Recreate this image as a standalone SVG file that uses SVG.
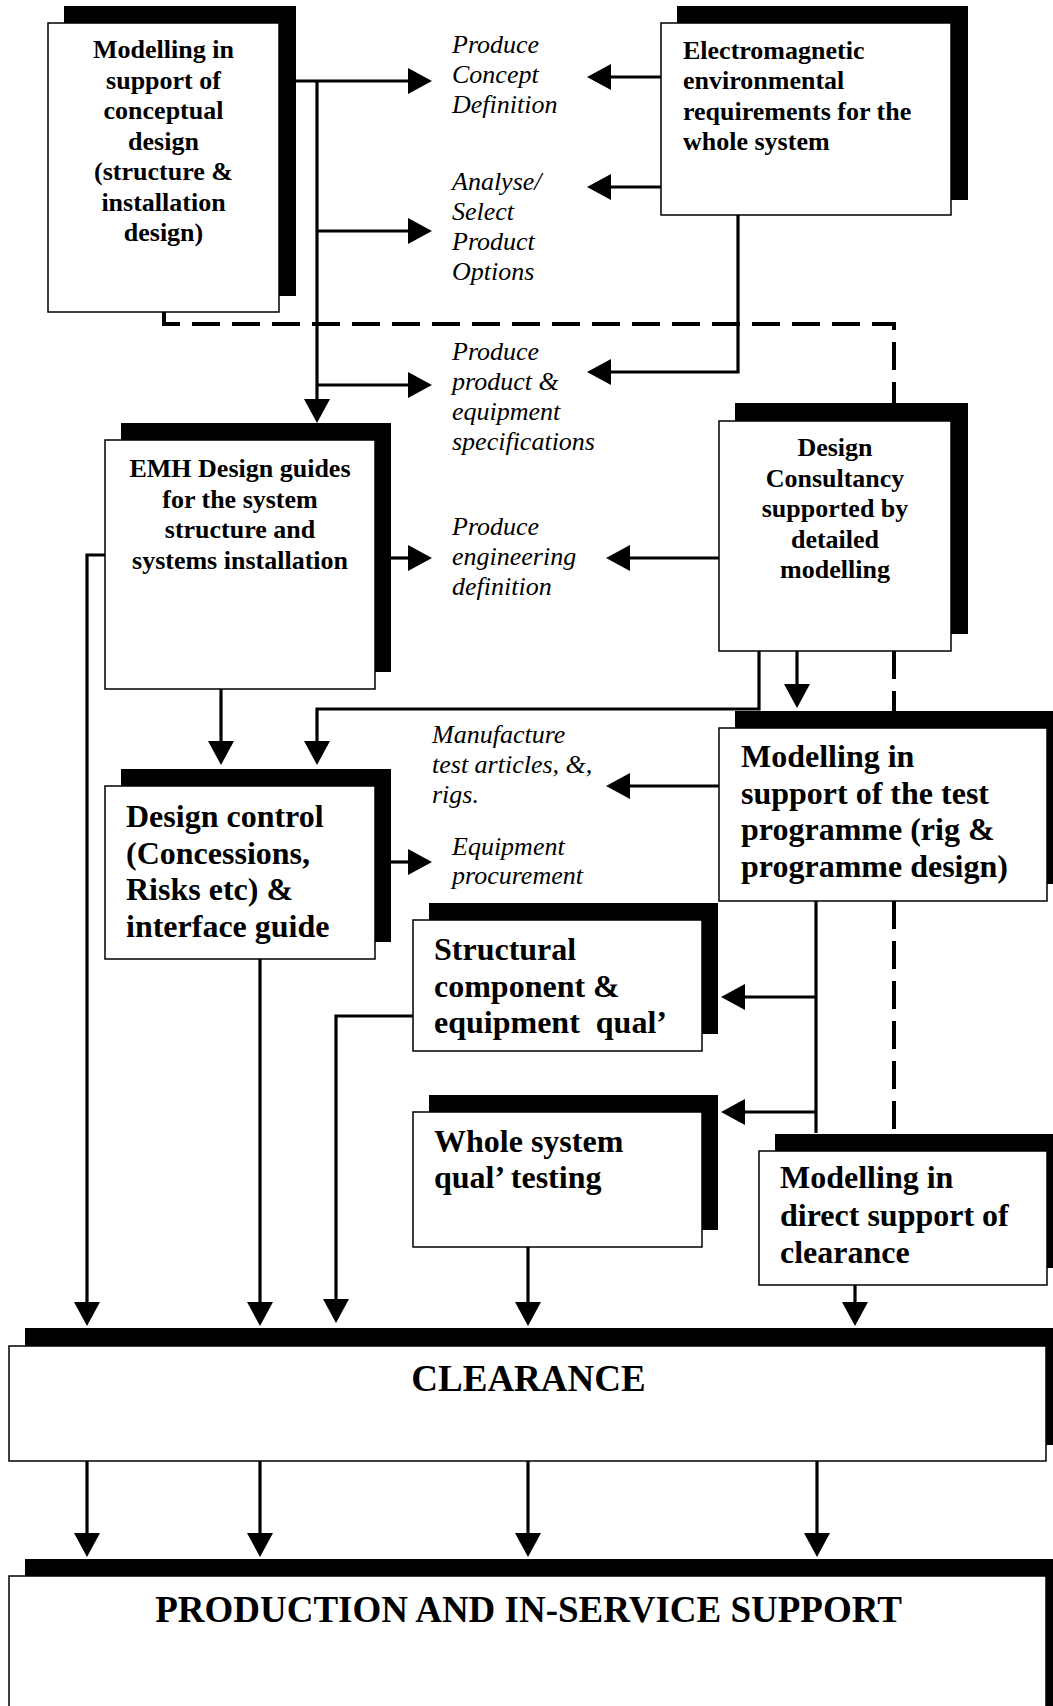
<svg xmlns="http://www.w3.org/2000/svg" width="1053" height="1706" viewBox="0 0 1053 1706">
<style>
.sh{fill:#000}
.bx{fill:#fff;stroke:#000;stroke-width:1.5}
.b{font-family:"Liberation Serif","Times New Roman",serif;font-weight:bold;font-size:26px;fill:#000}
.b32{font-size:32px}
.b37{font-size:37px}
.c{text-anchor:middle}
.it{font-family:"Liberation Serif","Times New Roman",serif;font-style:italic;font-size:26px;fill:#000}
.ln{fill:none;stroke:#000;stroke-width:3.2}
.ar{marker-end:url(#ah)}
.ds{fill:none;stroke:#000;stroke-width:4;stroke-dasharray:28 12}
</style>
<defs>
<marker id="ah" markerUnits="userSpaceOnUse" markerWidth="25" markerHeight="26" refX="0" refY="13" orient="auto" overflow="visible">
<path d="M0,0 L24,13 L0,26 Z" fill="#000"/>
</marker>
</defs>
<rect width="1053" height="1706" fill="#fff"/>

<g id="connectors">
<path class="ln ar" d="M296,81 H408"/>
<path class="ln ar" d="M317,81 V399"/>
<path class="ln ar" d="M317,231 H408"/>
<path class="ln ar" d="M317,385 H408"/>
<path class="ln ar" d="M661,77 H611"/>
<path class="ln ar" d="M661,187 H611"/>
<path class="ln ar" d="M738,215 V372 H611"/>
<path class="ds" d="M164,312 V324 H894 V403"/>
<path class="ln ar" d="M105,555 H87 V1302"/>
<path class="ln ar" d="M391,558 H408"/>
<path class="ln ar" d="M221,689 V741"/>
<path class="ln ar" d="M759,651 V709 H317 V741"/>
<path class="ln ar" d="M797,651 V684"/>
<path class="ln ar" d="M719,558 H630"/>
<path class="ds" d="M894,651 V712"/>
<path class="ln ar" d="M719,786 H630"/>
<path class="ln ar" d="M391,862 H408"/>
<path class="ln ar" d="M260,959 V1302"/>
<path class="ln ar" d="M413,1016 H336 V1299"/>
<path class="ln" d="M816,901 V1133"/>
<path class="ln ar" d="M816,997 H745"/>
<path class="ln ar" d="M816,1112 H745"/>
<path class="ds" d="M894,901 V1133"/>
<path class="ln ar" d="M528,1247 V1302"/>
<path class="ln ar" d="M855,1285 V1302"/>
<path class="ln ar" d="M87,1461 V1533"/>
<path class="ln ar" d="M260,1461 V1533"/>
<path class="ln ar" d="M528,1461 V1533"/>
<path class="ln ar" d="M817,1461 V1533"/>
</g>

<g id="conceptual">
<rect class="sh" x="64" y="6" width="232" height="290"/>
<rect class="bx" x="48" y="23" width="231" height="289"/>
<text class="b c" x="163.5"><tspan x="163.5" y="58">Modelling in</tspan><tspan x="163.5" y="88.5">support of</tspan><tspan x="163.5" y="119">conceptual</tspan><tspan x="163.5" y="149.5">design</tspan><tspan x="163.5" y="180">(structure &amp;</tspan><tspan x="163.5" y="210.5">installation</tspan><tspan x="163.5" y="241">design)</tspan></text>
</g>

<g id="em-requirements">
<rect class="sh" x="677" y="6" width="291" height="194"/>
<rect class="bx" x="661" y="23" width="290" height="192"/>
<text class="b"><tspan x="683" y="59">Electromagnetic</tspan><tspan x="683" y="89">environmental</tspan><tspan x="683" y="119.5">requirements for the</tspan><tspan x="683" y="150">whole system</tspan></text>
</g>

<g id="lbl-concept"><text class="it"><tspan x="452" y="53">Produce</tspan><tspan x="452" y="83">Concept</tspan><tspan x="452" y="113">Definition</tspan></text></g>
<g id="lbl-options"><text class="it"><tspan x="452" y="190">Analyse/</tspan><tspan x="452" y="220">Select</tspan><tspan x="452" y="250">Product</tspan><tspan x="452" y="280">Options</tspan></text></g>
<g id="lbl-specs"><text class="it"><tspan x="452" y="360">Produce</tspan><tspan x="452" y="390">product &amp;</tspan><tspan x="452" y="420">equipment</tspan><tspan x="452" y="450">specifications</tspan></text></g>
<g id="lbl-engdef"><text class="it"><tspan x="452" y="535">Produce</tspan><tspan x="452" y="565">engineering</tspan><tspan x="452" y="595">definition</tspan></text></g>
<g id="lbl-manufacture"><text class="it"><tspan x="432" y="743">Manufacture</tspan><tspan x="432" y="773">test articles, &amp;,</tspan><tspan x="432" y="803">rigs.</tspan></text></g>
<g id="lbl-procurement"><text class="it"><tspan x="452" y="855">Equipment</tspan><tspan x="452" y="884">procurement</tspan></text></g>

<g id="emh-guides">
<rect class="sh" x="121" y="423" width="270" height="249"/>
<rect class="bx" x="105" y="440" width="270" height="249"/>
<text class="b c"><tspan x="240" y="477">EMH Design guides</tspan><tspan x="240" y="507.5">for the system</tspan><tspan x="240" y="538">structure and</tspan><tspan x="240" y="568.5">systems installation</tspan></text>
</g>

<g id="design-consultancy">
<rect class="sh" x="735" y="403" width="233" height="231"/>
<rect class="bx" x="719" y="421" width="232" height="230"/>
<text class="b c"><tspan x="835" y="456">Design</tspan><tspan x="835" y="486.5">Consultancy</tspan><tspan x="835" y="517">supported by</tspan><tspan x="835" y="547.5">detailed</tspan><tspan x="835" y="578">modelling</tspan></text>
</g>

<g id="test-modelling">
<rect class="sh" x="735" y="711" width="328" height="173"/>
<rect class="bx" x="719" y="728" width="328" height="173"/>
<text class="b b32"><tspan x="741" y="767">Modelling in</tspan><tspan x="741" y="804">support of the test</tspan><tspan x="741" y="840">programme (rig &amp;</tspan><tspan x="741" y="877">programme design)</tspan></text>
</g>

<g id="design-control">
<rect class="sh" x="121" y="769" width="270" height="173"/>
<rect class="bx" x="105" y="786" width="270" height="173"/>
<text class="b b32"><tspan x="126" y="827">Design control</tspan><tspan x="126" y="864">(Concessions,</tspan><tspan x="126" y="900">Risks etc) &amp;</tspan><tspan x="126" y="937">interface guide</tspan></text>
</g>

<g id="structural-qual">
<rect class="sh" x="429" y="903" width="289" height="131"/>
<rect class="bx" x="413" y="920" width="289" height="131"/>
<text class="b b32" xml:space="preserve"><tspan x="434" y="960">Structural</tspan><tspan x="434" y="997">component &amp;</tspan><tspan x="434" y="1033">equipment  qual’</tspan></text>
</g>

<g id="whole-system">
<rect class="sh" x="429" y="1095" width="289" height="135"/>
<rect class="bx" x="413" y="1112" width="289" height="135"/>
<text class="b b32"><tspan x="434" y="1152">Whole system</tspan><tspan x="434" y="1188">qual’ testing</tspan></text>
</g>

<g id="clearance-modelling">
<rect class="sh" x="775" y="1134" width="288" height="134"/>
<rect class="bx" x="759" y="1151" width="288" height="134"/>
<text class="b b32"><tspan x="780" y="1188">Modelling in</tspan><tspan x="780" y="1226">direct support of</tspan><tspan x="780" y="1263">clearance</tspan></text>
</g>

<g id="clearance">
<rect class="sh" x="25" y="1328" width="1040" height="117"/>
<rect class="bx" x="9" y="1346" width="1037" height="115"/>
<text class="b b37 c" x="528.5" y="1391">CLEARANCE</text>
</g>

<g id="production">
<rect class="sh" x="25" y="1559" width="1040" height="160"/>
<rect class="bx" x="9" y="1576" width="1037" height="150"/>
<text class="b b37 c" x="528.5" y="1622">PRODUCTION AND IN-SERVICE SUPPORT</text>
</g>
</svg>
